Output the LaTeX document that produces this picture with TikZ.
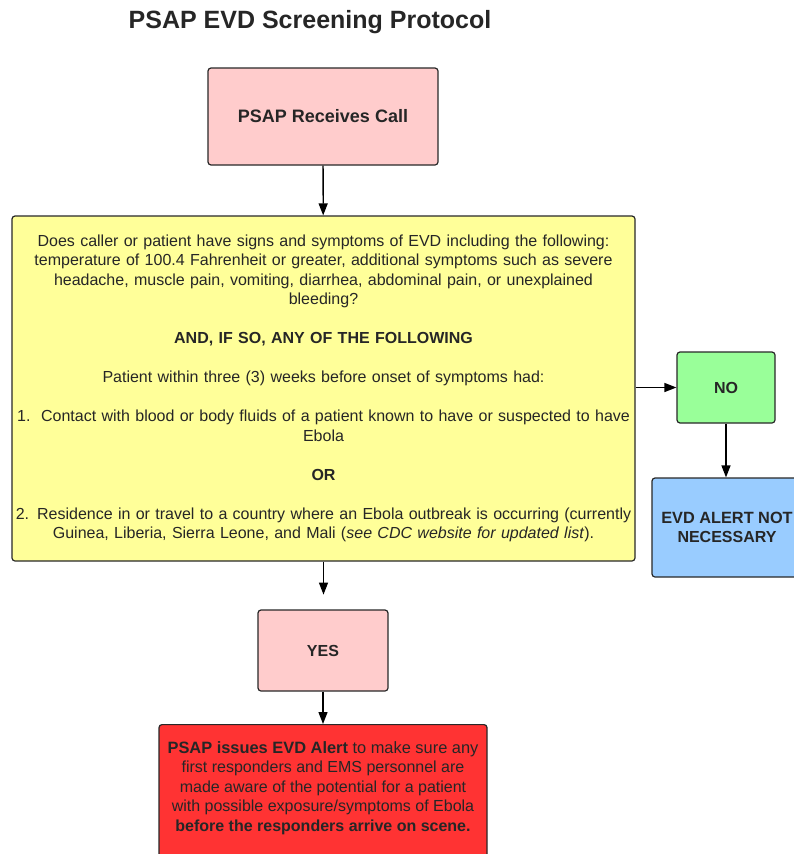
\documentclass[tikz,border=0pt]{standalone}
\usepackage{fontspec}
\setmainfont{Liberation Sans}
\usetikzlibrary{shapes,arrows.meta}
\definecolor{callpink}{RGB}{255,204,204}
\definecolor{askyellow}{RGB}{255,255,153}
\definecolor{nogreen}{RGB}{153,255,153}
\definecolor{notblue}{RGB}{153,204,255}
\definecolor{alertred}{RGB}{255,51,51}
\definecolor{edgegray}{RGB}{40,40,40}
\begin{document}
\begin{tikzpicture}[x=1pt,y=-1pt]
	\tikzstyle{every node}=[font=\fontsize{16}{19.5}\selectfont, text=black!85]
	\tikzstyle{box}=[draw=edgegray, line width=1.2pt, rounded corners=3pt, align=center, inner sep=0pt]
	\tikzstyle{flow}=[line width=1.3pt, -{Triangle[length=12pt,width=9pt]}]
	\useasboundingbox (0,0) rectangle (793,854);
	
	\node (title) at (310,22) {\fontsize{25}{28}\selectfont\bfseries PSAP EVD Screening Protocol};
	
	\node [box, fill=callpink, minimum width=230, minimum height=97] (call) at (323,116.5) {\fontsize{18}{20}\selectfont\bfseries PSAP Receives Call};
	
	\node [box, fill=askyellow, minimum width=623, minimum height=345, text width=621] (ask) at (323.5,388.5)
	{Does caller or patient have signs and symptoms of EVD including the following:\\
	 temperature of 100.4 Fahrenheit or greater, additional symptoms such as severe\\
	 headache, muscle pain, vomiting, diarrhea, abdominal pain, or unexplained\\
	 bleeding?\\[19.5pt]
	 \textbf{AND, IF SO, ANY OF THE FOLLOWING}\\[19.5pt]
	 Patient within three (3) weeks before onset of symptoms had:\\[19.5pt]
	 1.\ \ Contact with blood or body fluids of a patient known to have or suspected to have\\
	 Ebola\\[19.5pt]
	 \textbf{OR}\\[19.5pt]
	 2. Residence in or travel to a country where an Ebola outbreak is occurring (currently\\
	 Guinea, Liberia, Sierra Leone, and Mali (\textit{see CDC website for updated list}).};
	
	\node [box, fill=nogreen, minimum width=98, minimum height=71] (no) at (726,387.5) {\bfseries NO};
	
	\node [box, fill=notblue, minimum width=150, minimum height=99] (notneeded) at (727,527.5)
	{\fontsize{16.3}{20}\selectfont\bfseries EVD ALERT NOT\\ \bfseries NECESSARY};
	
	\node [box, fill=callpink, minimum width=130, minimum height=81] (yes) at (323,650.5) {\bfseries YES};
	
	% box runs on past the foot of the page
	\node [box, fill=alertred, minimum width=328, anchor=north, inner ysep=17pt] (alert) at (323,724)
	{\fontsize{16.4}{20}\selectfont\textbf{PSAP issues EVD Alert} to make sure any\\
	 first responders and EMS personnel are\\
	 made aware of the potential for a patient\\
	 with possible exposure/symptoms of Ebola\\
	 \textbf{before the responders arrive on scene.}\\[4pt]\strut};
	
	\draw [flow] (call) -- (ask);
	\draw [flow] (ask.east |- no.west) -- (no.west);
	\draw [flow] (no) -- (no |- notneeded.north);
	\draw [flow] (ask.south) -- +(0,33) coordinate (yestip);
	\draw [flow] (yes) -- (alert);
\end{tikzpicture}
\end{document}
